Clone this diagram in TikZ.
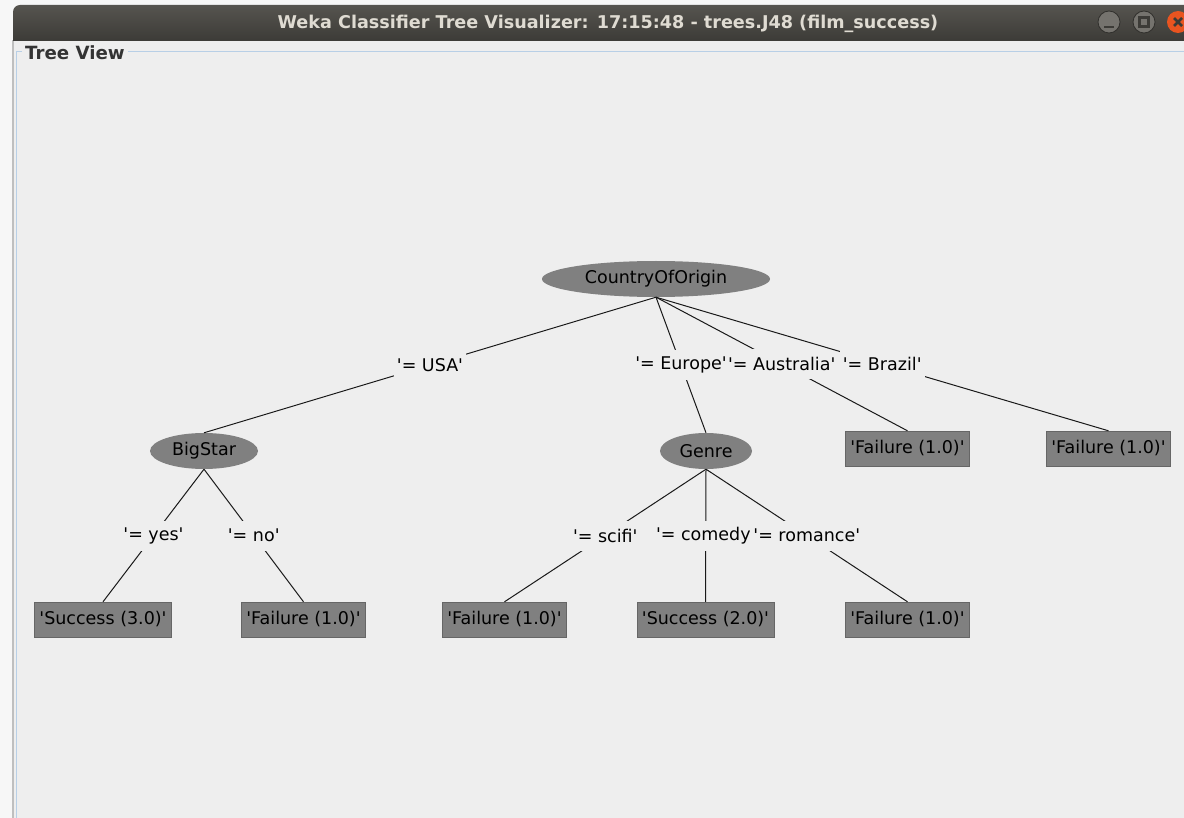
\documentclass[tikz,border=0pt]{standalone}
\usepackage{fontspec}
\setmainfont{DejaVu Sans}[Ligatures=TeXOff]
\usetikzlibrary{shapes.geometric}
\definecolor{wkbg}{HTML}{EEEEEE}
\definecolor{wkbar}{HTML}{3C3B37}
\definecolor{wkbartop}{HTML}{56544F}
\definecolor{wktitle}{HTML}{DFDBD2}
\definecolor{wknode}{HTML}{808080}
\definecolor{wkedge}{HTML}{666666}
\definecolor{wkframe}{HTML}{B8CFE6}
\definecolor{wkclose}{HTML}{E95420}
\definecolor{wkbtn}{HTML}{75736E}

\begin{document}
\begin{tikzpicture}[x=1pt,y=-1pt,font=\fontsize{17.5}{21}\selectfont,
  split/.style={ellipse,fill=wknode,inner sep=0pt,minimum height=36pt},
  leaf/.style={rectangle,fill=wknode,draw=wkedge,inner xsep=5pt,minimum height=35pt},
  cond/.style={fill=wkbg,inner xsep=3pt,inner ysep=0pt,minimum height=30pt},
  branch/.style={draw=black!90,line width=1pt},
  btn/.style={fill=wkbtn,draw=wkbar!80!black,line width=0.8pt}]
\useasboundingbox (0,0) rectangle (1184,818);
\fill[black!3] (0,0) rectangle (1184,818);
\fill[wkbg] (13,40) rectangle (1184,818);
\draw[black!25,line width=1.5pt] (13,40) -- (13,818);
\shade[top color=wkbartop,bottom color=wkbar] (13,41) [rounded corners=7pt] -- (13,5) -- (1200,5) [sharp corners] -- (1200,41) -- cycle;
\node[text=wktitle,font=\bfseries\fontsize{17.6}{20}\selectfont] (title) at (608,23.5) {Weka Classifier Tree Visualizer: 17:15:48 - trees.J48 (film\_success)};
\fill[btn] (1109,22) circle (11);
\draw[wkbar,line width=2.5pt] (1104,27) -- (1114,27);
\fill[btn] (1144,22) circle (11);
\draw[wkbar,line width=2.2pt] (1139.5,17.5) rectangle (1148.5,26.5);
\fill[wkclose] (1178,22) circle (11);
\draw[wkbar,line width=2.5pt] (1174,18) -- (1182,26) (1174,26) -- (1182,18);
\draw[wkframe,line width=1pt] (22,52) -- (16.5,52) -- (16.5,818);
\draw[wkframe,line width=1pt] (128,52) -- (1184,52);
\node[font=\bfseries\fontsize{18.2}{20}\selectfont,text=black!80,anchor=west,inner xsep=1pt] (treeview) at (24,53) {Tree View};

\node[split,minimum width=228pt] (country) at (656,279) {CountryOfOrigin};
\node[split,minimum width=108pt] (bigstar) at (204,451) {BigStar};
\node[split,minimum width=92pt] (genre) at (706,451) {Genre};
\node[leaf] (aus) at (907.5,448.5) {'Failure (1.0)'};
\node[leaf] (bra) at (1108.5,448.5) {'Failure (1.0)'};
\node[leaf] (yes) at (103,619.5) {'Success (3.0)'};
\node[leaf] (no) at (303.5,619.5) {'Failure (1.0)'};
\node[leaf] (scifi) at (504.5,619.5) {'Failure (1.0)'};
\node[leaf] (comedy) at (705.5,619.5) {'Success (2.0)'};
\node[leaf] (romance) at (907.5,619.5) {'Failure (1.0)'};

\draw[branch] (country.south) -- node[cond] {'= USA'} (bigstar.north);
\draw[branch] (country.south) -- node[cond] {'= Europe'} (genre.north);
\draw[branch] (country.south) -- node[cond] {'= Australia'} (aus.north);
\draw[branch] (country.south) -- node[cond] {'= Brazil'} (bra.north);
\draw[branch] (bigstar.south) -- node[cond] {'= yes'} (yes.north);
\draw[branch] (bigstar.south) -- node[cond] {'= no'} (no.north);
\draw[branch] (genre.south) -- node[cond] {'= scifi'} (scifi.north);
\draw[branch] (genre.south) -- node[cond] {'= comedy'} (comedy.north);
\draw[branch] (genre.south) -- node[cond] {'= romance'} (romance.north);
\end{tikzpicture}
\end{document}
